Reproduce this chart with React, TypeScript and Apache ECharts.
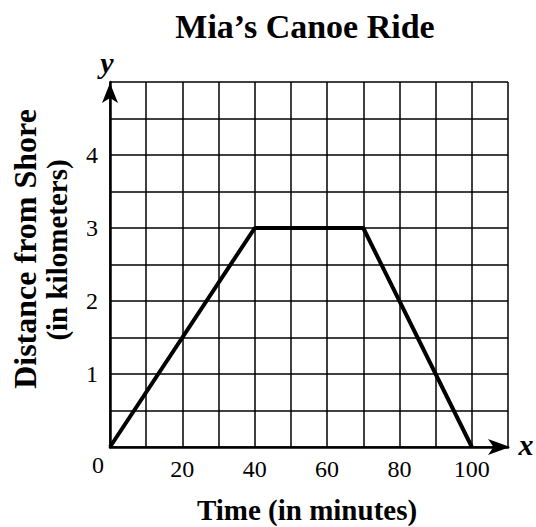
import React, { useEffect, useRef } from "react";
import * as echarts from "echarts";

const timeMin = [0, 40, 70, 100];
const distanceKm = [0, 3, 3, 0];
const xTickLabels = [20, 40, 60, 80, 100];
const yTickLabels = [1, 2, 3, 4];
const titleText = "Mia\u2019s Canoe Ride";
const xTitle = "Time (in minutes)";
const yTitleLines = ["Distance from Shore", "(in kilometers)"];

const SERIF = "'Liberation Serif', serif";

export default function App() {
  const ref = useRef<HTMLDivElement>(null);
  useEffect(() => {
    if (!ref.current) return;
    const chart = echarts.init(ref.current, undefined, { renderer: "svg" });
    const data = timeMin.map((t, i) => [t, distanceKm[i]]);
    chart.setOption({
      animation: false,
      backgroundColor: "#ffffff",
      grid: { left: 110, top: 82, right: 28, bottom: 80, containLabel: false },
      xAxis: {
        type: "value",
        min: 0,
        max: 110,
        interval: 10,
        axisLine: {
          show: true,
          onZero: false,
          lineStyle: { color: "#000", width: 2.5 },
          symbol: ["none", "arrow"],
          symbolSize: [12, 22],
          symbolOffset: [0, 2],
        },
        axisTick: { show: false },
        splitLine: { show: true, lineStyle: { color: "#000", width: 1.5 } },
        axisLabel: {
          margin: 10,
          color: "#000",
          fontFamily: SERIF,
          fontSize: 24,
          formatter: (v: number) => (xTickLabels.includes(v) ? String(v) : ""),
        },
      },
      yAxis: {
        type: "value",
        min: 0,
        max: 5,
        interval: 0.5,
        axisLine: {
          show: true,
          onZero: false,
          lineStyle: { color: "#000", width: 2.5 },
          symbol: ["none", "arrow"],
          symbolSize: [12, 20],
          symbolOffset: [0, -1],
        },
        axisTick: { show: false },
        splitLine: { show: true, lineStyle: { color: "#000", width: 1.5 } },
        axisLabel: {
          margin: 12,
          color: "#000",
          fontFamily: SERIF,
          fontSize: 24,
          formatter: (v: number) => (yTickLabels.includes(v) ? String(v) : ""),
        },
      },
      series: [
        {
          type: "line",
          data,
          symbol: "none",
          lineStyle: { color: "#000", width: 4 },
          z: 5,
        },
      ],
      graphic: [
        {
          type: "text",
          x: 305,
          y: 26,
          style: {
            text: titleText,
            fontFamily: SERIF,
            fontWeight: "bold",
            fontSize: 34,
            fill: "#000",
            align: "center",
            verticalAlign: "middle",
          },
        },
        {
          type: "text",
          x: 307,
          y: 510,
          style: {
            text: xTitle,
            fontFamily: SERIF,
            fontWeight: "bold",
            fontSize: 29,
            fill: "#000",
            align: "center",
            verticalAlign: "middle",
          },
        },
        {
          type: "text",
          x: 25,
          y: 249,
          rotation: Math.PI / 2,
          style: {
            text: yTitleLines[0],
            fontFamily: SERIF,
            fontWeight: "bold",
            fontSize: 32,
            fill: "#000",
            align: "center",
            verticalAlign: "middle",
          },
        },
        {
          type: "text",
          x: 57,
          y: 250,
          rotation: Math.PI / 2,
          style: {
            text: yTitleLines[1],
            fontFamily: SERIF,
            fontWeight: "bold",
            fontSize: 29,
            fill: "#000",
            align: "center",
            verticalAlign: "middle",
          },
        },
        {
          type: "text",
          x: 98,
          y: 465,
          style: {
            text: "0",
            fontFamily: SERIF,
            fontSize: 24,
            fill: "#000",
            align: "center",
            verticalAlign: "middle",
          },
        },
        {
          type: "text",
          x: 107,
          y: 62,
          style: {
            text: "y",
            fontFamily: SERIF,
            fontStyle: "italic",
            fontWeight: "bold",
            fontSize: 30,
            fill: "#000",
            align: "center",
            verticalAlign: "middle",
          },
        },
        {
          type: "text",
          x: 526,
          y: 444,
          style: {
            text: "x",
            fontFamily: SERIF,
            fontStyle: "italic",
            fontWeight: "bold",
            fontSize: 30,
            fill: "#000",
            align: "center",
            verticalAlign: "middle",
          },
        },
      ],
    });
    return () => chart.dispose();
  }, []);
  return (
    <div
      ref={ref}
      style={{ position: "absolute", left: 0, top: 0, width: 536, height: 527 }}
    />
  );
}
